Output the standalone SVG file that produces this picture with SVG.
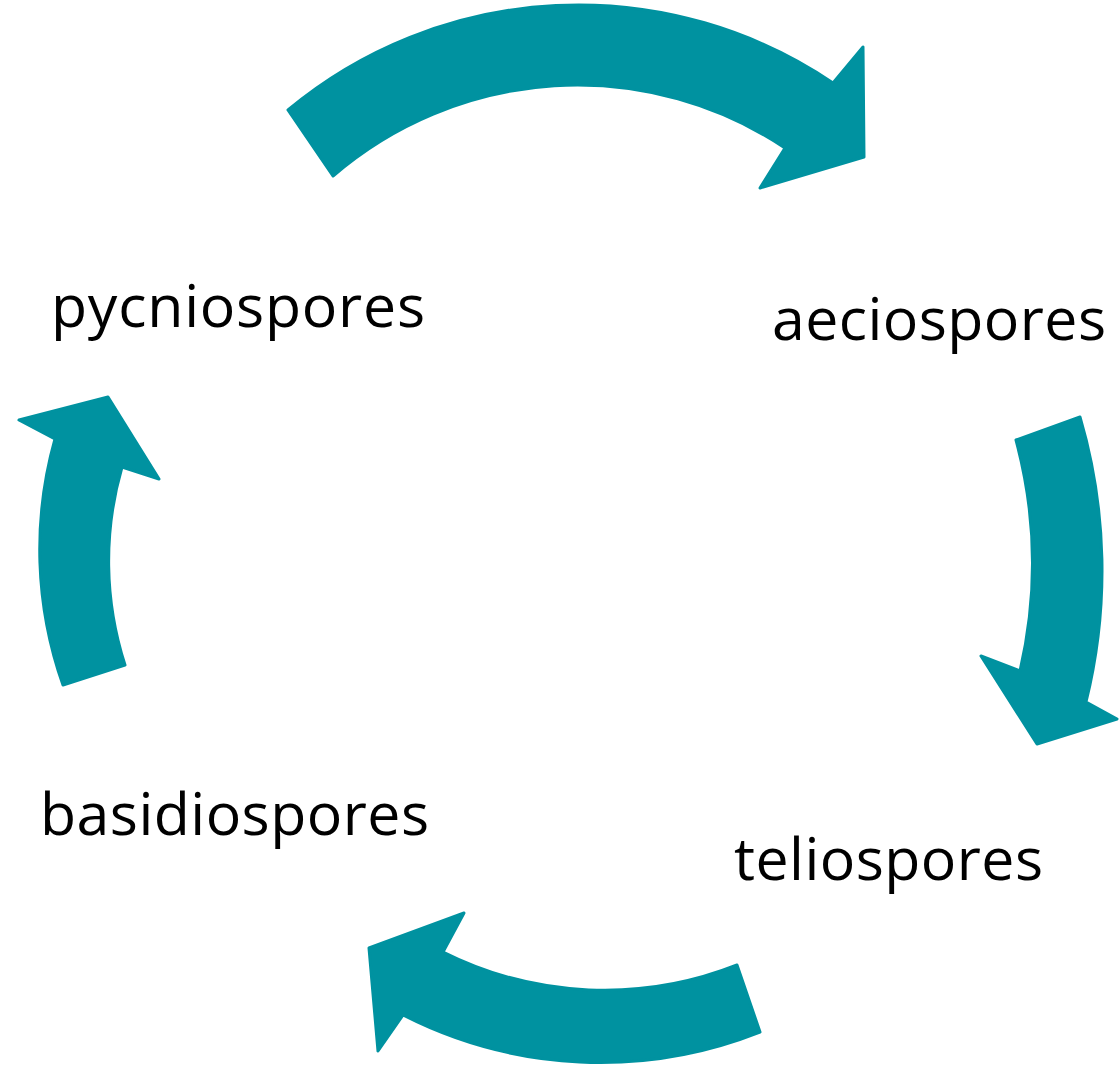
<svg xmlns="http://www.w3.org/2000/svg" width="1119" height="1066" viewBox="0 0 1119 1066">
<style>
.arrow{fill:#0092A0;stroke:#0092A0;stroke-width:3;stroke-linejoin:round}
.lbl{font-family:"Open Sans","Noto Sans","DejaVu Sans",sans-serif;font-size:59px;fill:#000}
</style>
<rect width="1119" height="1066" fill="#fff"/>
<g id="connectors">
<path id="arrow-top" class="arrow" d="M288,110 A454,454 0 0 1 833,83 L863,47 L864,157 L760,188 L785,148 A374,374 0 0 0 333,176 Z"/>
<path id="arrow-right" class="arrow" d="M1080,417 A547,547 0 0 1 1086,702 L1117,719 L1037,744 L981,656 L1020,671 A476,476 0 0 0 1016,440 Z"/>
<path id="arrow-bottom" class="arrow" d="M760,1032 A434,434 0 0 1 403,1015 L378,1051 L369,948 L464,913 L443,952 A360,360 0 0 0 737,965 Z"/>
<path id="arrow-left" class="arrow" d="M63,685 A407,407 0 0 1 55,439 L19,420 L108,397 L159,479 L122,467 A338,338 0 0 0 125,665 Z"/>
</g>
<g id="node-pycniospores"><text class="lbl" x="51" y="327" textLength="374">pycniospores</text></g>
<g id="node-aeciospores"><text class="lbl" x="772" y="340" textLength="334">aeciospores</text></g>
<g id="node-teliospores"><text class="lbl" x="734" y="880" textLength="309">teliospores</text></g>
<g id="node-basidiospores"><text class="lbl" x="40" y="835" textLength="389">basidiospores</text></g>
</svg>
